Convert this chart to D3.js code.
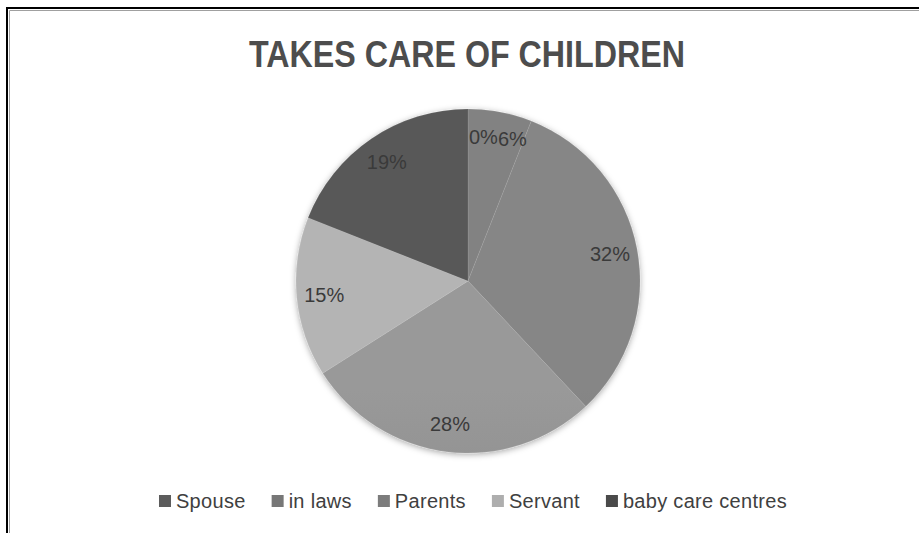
<!DOCTYPE html>
<html>
<head>
<meta charset="utf-8">
<script src="https://cdn.jsdelivr.net/npm/d3@7/dist/d3.min.js"></script>
<style>
  html, body { margin: 0; padding: 0; background: #fff; }
  svg { display: block; }
</style>
</head>
<body>
<svg id="chart" width="919" height="533"></svg>
<script>
// Who takes care of the children — share of respondents, in percent.
const categories = ["Spouse", "in laws", "Parents", "", "Servant", "baby care centres"];
const shares = [0, 6, 32, 28, 15, 19];
const sliceColors = ["#5c5c5c", "#777777", "#7c7c7c", "#909090", "#aeaeae", "#4a4a4a"];
const title = "TAKES CARE OF CHILDREN";

const W = 919, H = 533;
const cx = 468, cy = 281, R = 172;
const fontFamily = "'Liberation Sans', Arial, sans-serif";
const titleFamily = "'Liberation Sans Narrow', 'Liberation Sans', 'DejaVu Sans Condensed', sans-serif";

const svg = d3.select("#chart");
const defs = svg.append("defs");

// chart area frame: dark line with a thin grey inner line
svg.append("path")
  .attr("d", `M7,${H} V8 H${W}`)
  .attr("fill", "none").attr("stroke", "#000").attr("stroke-width", 2);
svg.append("path")
  .attr("d", `M9.5,${H} V10.5 H${W}`)
  .attr("fill", "none").attr("stroke", "#a0a0a0").attr("stroke-width", 1);

// title
svg.append("text")
  .attr("x", 467).attr("y", 67)
  .attr("text-anchor", "middle")
  .attr("font-family", titleFamily)
  .attr("font-size", 36)
  .attr("font-weight", "bold")
  .attr("fill", "#4d4d4d")
  .attr("textLength", 436)
  .attr("lengthAdjust", "spacingAndGlyphs")
  .text(title);

// soft shadow under the pie
const shadow = defs.append("filter").attr("id", "pieShadow")
  .attr("x", "-20%").attr("y", "-20%").attr("width", "140%").attr("height", "140%");
shadow.append("feDropShadow")
  .attr("dx", 0).attr("dy", 1.5).attr("stdDeviation", 3)
  .attr("flood-color", "#000").attr("flood-opacity", 0.35);

// vertical light-to-dark shading per slice colour
sliceColors.forEach((c, i) => {
  const g = defs.append("linearGradient")
    .attr("id", "grad" + i)
    .attr("gradientUnits", "userSpaceOnUse")
    .attr("x1", 0).attr("x2", 0)
    .attr("y1", cy - R).attr("y2", cy + R);
  g.append("stop").attr("offset", "0%").attr("stop-color", d3.interpolateRgb(c, "#fff")(0.08));
  g.append("stop").attr("offset", "100%").attr("stop-color", d3.interpolateRgb(c, "#000")(0.12));
});

const data = categories.map((name, i) => ({ name, value: shares[i], index: i }));
const pie = d3.pie().value(d => d.value).sort(null);
const arcs = pie(data);
const arc = d3.arc().innerRadius(0).outerRadius(R);
const labelArc = d3.arc().innerRadius(R * 0.84).outerRadius(R * 0.84);

const pieG = svg.append("g").attr("transform", `translate(${cx},${cy})`);
pieG.append("g").attr("filter", "url(#pieShadow)")
  .selectAll("path")
  .data(arcs.filter(a => a.data.value > 0))
  .join("path")
  .attr("d", arc)
  .attr("fill", d => `url(#grad${d.data.index})`)
  .attr("stroke", "#ffffff").attr("stroke-opacity", 0.15).attr("stroke-width", 0.6);

// data labels; a zero slice sits just right of its angle, later labels are pushed clear
const labelG = pieG.append("g")
  .attr("font-family", fontFamily)
  .attr("font-size", 20)
  .attr("fill", "#3a3a3a");
let prevBox = null;
arcs.forEach(a => {
  const [lx, ly] = labelArc.centroid(a);
  const t = labelG.append("text")
    .attr("dominant-baseline", "central")
    .text(a.data.value + "%");
  const w = t.node().getComputedTextLength();
  let x0 = a.data.value === 0 ? lx + 1 : lx - w / 2;
  const box = { x0, x1: x0 + w, y0: ly - 9, y1: ly + 9 };
  if (prevBox && box.x0 < prevBox.x1 && box.x1 > prevBox.x0 && box.y0 < prevBox.y1 && box.y1 > prevBox.y0) {
    const shift = prevBox.x1 - box.x0;
    box.x0 += shift; box.x1 += shift;
  }
  t.attr("x", box.x0).attr("y", ly);
  prevBox = box;
});

// legend across the bottom, centred under the pie
const legendItems = data.filter(d => d.name !== "");
const legendG = svg.append("g")
  .attr("font-family", fontFamily)
  .attr("font-size", 20)
  .attr("letter-spacing", 0.3)
  .attr("fill", "#404040");
const sw = 12, swGap = 5, itemGap = 26, legendY = 501;
let x = 0;
const placed = legendItems.map(d => {
  const t = legendG.append("text")
    .attr("dominant-baseline", "central")
    .attr("y", legendY)
    .text(d.name);
  const w = t.node().getComputedTextLength();
  const item = { d, t, x, w };
  x += sw + swGap + w + itemGap;
  return item;
});
const totalW = x - itemGap;
const startX = 473 - totalW / 2;
placed.forEach(p => {
  legendG.append("rect")
    .attr("x", startX + p.x).attr("y", legendY - sw / 2)
    .attr("width", sw).attr("height", sw)
    .attr("fill", sliceColors[p.d.index]);
  p.t.attr("x", startX + p.x + sw + swGap);
});
</script>
</body>
</html>
